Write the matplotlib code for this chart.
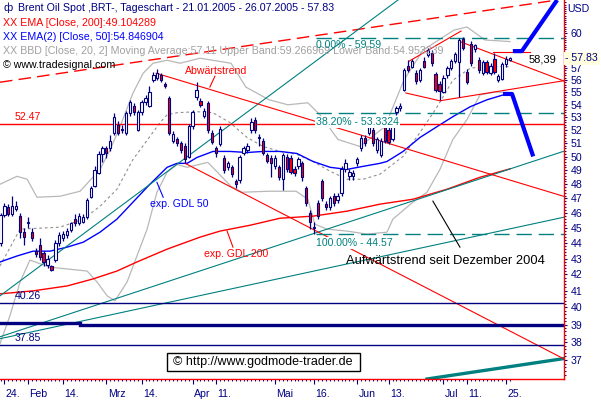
import matplotlib
matplotlib.use("Agg")
import matplotlib.pyplot as plt
from matplotlib.patches import Rectangle
from matplotlib.ticker import FixedLocator, NullFormatter
import numpy as np
import pandas as pd

plt.rcParams['font.family'] = ['Liberation Sans', 'DejaVu Sans']

NAVY = '#000080'
RED = '#ff0000'
BLUE = '#0000ff'
TEAL = '#008080'
GREY = '#b8b8b8'

# trading days (Good Friday and 30 May missing in the feed)
dates = pd.bdate_range('2005-01-21', '2005-07-26')
dates = dates.drop(pd.to_datetime(['2005-03-25', '2005-05-30']))

opens = [44.0, 45.85, 46.4, 45.95, 46.3, 45.8, 44.7, 45.3, 44.7, 43.5,
         43.9, 43.35, 42.6, 42.5, 42.9, 44.0, 44.3, 44.5, 44.85, 45.6,
         45.3, 45.4, 45.7, 47.1, 47.9, 48.8, 50.2, 50.6, 50.6, 51.8,
         52.4, 52.0, 51.8, 53.3, 53.9, 52.0, 53.4, 54.2, 53.9, 56.0,
         56.2, 56.4, 55.7, 54.5, 51.2, 51.3, 51.0, 50.8, 50.0, 52.3,
         54.6, 54.3, 53.1, 54.1, 51.8, 50.6, 50.9, 49.9, 49.2, 49.2,
         48.2, 48.3, 50.3, 50.5, 52.0, 52.8, 51.5, 51.2, 50.1, 49.9,
         49.3, 49.2, 48.4, 50.0, 49.9, 49.1, 49.3, 49.5, 47.7, 46.0,
         45.0, 46.7, 48.2, 46.6, 46.4, 47.2, 46.9, 47.4, 49.1, 48.6,
         48.6, 49.5, 50.6, 51.4, 51.8, 52.0, 50.5, 50.1, 52.2, 52.0,
         51.3, 53.4, 53.7, 55.2, 57.2, 57.1, 56.6, 56.0, 57.6, 58.1,
         58.3, 56.5, 55.7, 55.0, 56.4, 57.0, 57.6, 57.5, 59.5, 56.7,
         59.1, 58.6, 57.7, 56.6, 57.5, 56.6, 57.8, 56.0, 56.1, 57.3, 57.7]
highs = [46.0, 46.7, 46.6, 47.2, 46.8, 46.0, 45.0, 45.7, 45.0, 43.7,
         44.3, 43.5, 43.2, 42.6, 44.2, 44.7, 44.8, 45.0, 45.4, 45.9,
         46.0, 45.9, 47.0, 47.9, 49.3, 50.4, 50.8, 50.8, 51.6, 53.3,
         52.7, 52.4, 53.5, 54.4, 54.1, 53.6, 54.4, 54.8, 55.5, 56.7,
         56.9, 56.6, 55.8, 54.7, 51.9, 51.5, 51.2, 51.0, 52.5, 53.6,
         55.8, 54.5, 53.7, 54.3, 52.0, 50.8, 52.3, 50.1, 49.7, 49.4,
         48.4, 50.1, 50.8, 51.0, 52.9, 53.0, 51.7, 51.4, 50.3, 50.1,
         50.1, 49.4, 50.3, 50.2, 50.1, 49.3, 50.0, 49.7, 47.9, 46.2,
         45.4, 46.9, 48.4, 46.8, 47.2, 47.4, 47.4, 49.3, 49.8, 49.1,
         49.0, 50.0, 51.6, 51.6, 52.4, 52.2, 51.5, 51.4, 52.4, 52.2,
         52.8, 53.9, 54.1, 57.0, 57.7, 57.8, 56.8, 57.0, 57.9, 58.7,
         58.5, 56.7, 55.9, 56.4, 57.2, 57.8, 58.4, 59.6, 59.7, 56.9,
         59.3, 59.1, 57.9, 57.7, 57.7, 57.4, 58.3, 56.5, 57.5, 58.0, 57.95]
lows = [43.8, 45.7, 45.8, 45.8, 46.1, 44.3, 43.9, 45.0, 44.1, 43.1,
        42.9, 42.5, 42.4, 42.2, 42.8, 43.8, 44.1, 44.3, 44.7, 45.1,
        45.2, 45.3, 45.6, 47.0, 47.8, 48.7, 49.6, 49.9, 50.4, 51.6,
        51.6, 51.8, 51.6, 53.1, 53.2, 51.9, 53.2, 54.0, 53.8, 55.8,
        56.0, 55.8, 55.3, 51.6, 51.0, 50.8, 50.3, 49.5, 49.9, 52.1,
        54.4, 53.8, 52.9, 51.8, 50.9, 50.0, 50.8, 48.8, 49.0, 48.5,
        47.7, 48.1, 50.1, 50.3, 51.8, 51.8, 50.8, 50.1, 49.5, 48.5,
        49.1, 48.3, 47.6, 48.9, 48.7, 48.6, 49.1, 48.2, 46.5, 44.9,
        44.6, 45.6, 46.8, 46.2, 46.2, 46.5, 46.7, 47.2, 48.9, 48.3,
        48.3, 49.3, 50.4, 50.8, 51.6, 50.8, 50.3, 50.0, 51.0, 50.9,
        51.2, 53.2, 53.5, 55.1, 56.7, 57.0, 55.7, 55.8, 57.0, 57.9,
        57.2, 55.0, 54.4, 54.9, 56.2, 56.8, 57.4, 54.6, 58.5, 55.7,
        57.2, 58.4, 56.6, 56.4, 56.5, 56.4, 56.5, 55.8, 56.0, 57.1, 57.6]
closes = [45.85, 46.5, 45.95, 46.5, 46.5, 44.7, 44.4, 45.4, 44.3, 43.3,
          43.1, 42.8, 43.0, 42.3, 44.0, 44.5, 44.6, 44.8, 45.3, 45.3,
          45.8, 45.7, 46.9, 47.7, 49.0, 50.2, 50.6, 50.3, 51.2, 53.0,
          51.8, 52.1, 53.3, 54.2, 53.4, 53.4, 54.2, 54.5, 55.0, 56.4,
          56.6, 56.0, 55.5, 51.8, 51.7, 51.0, 50.5, 49.8, 52.3, 53.4,
          55.2, 54.0, 53.5, 52.0, 51.1, 50.3, 52.1, 49.0, 49.5, 48.7,
          48.0, 50.0, 50.6, 50.8, 52.6, 52.0, 51.4, 50.3, 49.7, 49.5,
          49.9, 48.5, 50.1, 49.1, 48.9, 48.8, 49.8, 48.5, 46.7, 45.4,
          45.05, 45.8, 47.0, 46.4, 47.0, 46.7, 47.2, 49.1, 49.5, 48.9,
          48.8, 49.8, 51.4, 51.0, 52.2, 51.0, 51.3, 51.2, 51.2, 51.1,
          52.6, 53.7, 53.9, 56.8, 56.8, 57.6, 55.9, 56.8, 57.1, 58.5,
          57.4, 55.2, 55.1, 56.2, 57.0, 57.6, 58.2, 59.4, 58.7, 55.8,
          57.4, 59.0, 56.8, 57.5, 56.7, 57.2, 56.7, 56.3, 57.3, 57.8, 57.83]

# indicator lines (bar index, price)
ema200_x = [-0.13, 8.3, 17.0, 23.6, 29.7, 34.8, 42.5, 50.9, 56.0, 63.7, 71.3, 79.7,
            88.4, 96.8, 105.2, 113.9, 122.3, 130.0]
ema200_y = [40.81, 40.99, 41.29, 41.72, 42.21, 42.78, 43.60, 44.38, 44.78, 45.17, 45.64, 45.78,
            46.12, 46.60, 46.94, 47.64, 48.49, 49.10]
ema50_x = [-0.13, 4.2, 8.3, 12.6, 17.0, 21.1, 25.4, 29.7, 33.8, 38.1, 42.5, 45.0, 47.6,
           50.1, 54.2, 58.5, 62.9, 67.0, 71.3, 75.6, 79.7, 84.1, 88.4, 92.5, 96.8, 98.6,
           102.7, 107.0, 111.4, 115.4, 119.8, 124.1, 128.2, 130.0]
ema50_y = [42.78, 43.16, 43.47, 43.47, 43.73, 44.05, 44.71, 45.58, 46.74, 47.99, 49.21, 49.50, 49.50,
           49.93, 50.38, 50.38, 50.30, 50.38, 50.38, 50.23, 49.64, 49.21, 49.06, 49.28, 49.50, 49.64,
           50.38, 51.43, 52.27, 53.04, 53.82, 54.38, 54.77, 54.85]
bb_mid_x = [-0.13, 5.0, 15.2, 21.1, 25.4, 29.7, 33.8, 38.1, 40.7, 42.5, 45.0, 50.1, 54.2,
            58.5, 62.9, 67.0, 71.3, 75.6, 79.7, 84.1, 88.4, 92.5, 96.8, 102.7, 107.0, 111.4,
            115.4, 119.8, 124.1, 130.0]
bb_mid_y = [42.53, 44.91, 45.04, 45.58, 46.46, 47.64, 49.79, 51.50, 52.58, 53.19, 53.35, 53.43, 53.35,
            52.58, 51.43, 50.75, 50.38, 50.16, 49.64, 48.92, 48.35, 48.35, 48.71, 50.01, 51.81, 53.82,
            55.98, 56.98, 57.14, 57.11]
bb_up_x = [-0.13, 4.2, 6.8, 9.3, 15.2, 20.3, 25.4, 28.0, 30.5, 33.8, 36.4, 38.9, 42.5, 45.8,
           50.9, 58.8, 62.6, 68.5, 73.3, 78.4, 81.5, 86.1, 91.7, 98.1, 102.9, 107.8, 115.7,
           119.0, 123.6, 130.0]
bb_up_y = [47.99, 48.56, 48.35, 47.08, 47.15, 47.50, 49.06, 50.53, 52.27, 54.93, 56.56, 57.40, 57.66, 57.40,
           57.83, 57.40, 55.41, 54.38, 53.98, 54.14, 53.19, 51.28, 50.75, 52.27, 55.98, 58.53, 60.29,
           60.56, 59.41, 59.27]
bb_low_x = [-0.13, 2.4, 5.0, 7.5, 12.6, 17.0, 22.1, 24.6, 27.2, 29.2, 32.3, 34.8, 37.4,
            39.9, 42.5, 45.0, 47.6, 52.9, 58.8, 61.6, 68.5, 75.4, 78.4, 80.2, 83.3, 88.4, 93.5,
            98.6, 100.1, 105.2, 108.8, 112.1, 115.4, 119.0, 122.3, 126.2, 130.0]
bb_low_y = [37.91, 39.51, 41.54, 42.90, 42.45, 42.34, 42.21, 41.54, 40.69, 40.39, 41.54, 43.16, 44.91,
            47.43, 48.85, 49.42, 49.21, 49.57, 47.85, 47.43, 47.50, 47.50, 46.94, 45.24, 44.91, 44.78, 44.58,
            44.71, 45.58, 46.74, 47.43, 49.06, 51.28, 52.81, 54.77, 55.01, 54.95]

# drawn analysis lines: (x, y) of their ends
red_dash = ([-0.13, 142.0], [55.81, 63.03])
teal_steep = ([-0.13, 101.4], [40.69, 63.03])
teal_upper = ([-0.13, 143.75], [38.30, 50.40])
teal_lower = ([-0.13, 143.75], [38.19, 45.71])
teal_thick = ([108.8, 143.6], [35.98, 37.08])
down_top = ([39.7, 143.6], [56.56, 47.15])
down_low = ([47.1, 143.6], [49.50, 37.08])
wedge_top = ([104.2, 117.5], [57.57, 60.20])
wedge_low = ([103.4, 112.1, 143.6], [54.93, 54.30, 55.93])
pennant_top = ([117.5, 143.6], [59.23, 55.93])
mark_5839 = ([125.6, 135.1], [58.39, 58.39])
arrow_up = ([130.7, 133.0, 142.0], [58.44, 58.44, 63.03])
arrow_down = ([128.2, 130.5, 135.9], [54.85, 54.85, 50.01])

fib_levels = [59.59, 53.3324, 44.57]
fib_start = 80.5
level_red = 52.47
levels_navy = [40.26, 37.85]

y_ticks = [60, 57, 56, 55, 54, 53, 52, 51, 50, 49, 48, 47, 46, 45, 44, 43, 42, 41, 40, 39, 38, 37]
x_tick_dates = ['2005-01-24', '2005-02-01', '2005-02-14', '2005-03-01', '2005-03-14', '2005-04-01',
                '2005-04-11', '2005-05-02', '2005-05-16', '2005-06-01', '2005-06-13', '2005-07-01',
                '2005-07-11', '2005-07-25']
x_tick_labels = ['24.', 'Feb', '14.', 'Mrz', '14.', 'Apr', '11.', 'Mai', '16.', 'Jun', '13.', 'Jul',
                 '11.', '25.']

W, H = 601, 401


def px(x, y):
    return x / W, 1 - y / H


fig = plt.figure(figsize=(6.01, 4.01), dpi=100)
ax = fig.add_axes([0, 22 / H, 564 / W, 379 / H])
ax.set_yscale('log')
ax.set_xlim(-0.13, 143.75)
ax.set_ylim(35.98, 63.03)

xs = np.arange(len(dates))
o = np.array(opens)
c = np.array(closes)

# indicators
ax.plot(bb_up_x, bb_up_y, color=GREY, lw=0.9, zorder=1)
ax.plot(bb_low_x, bb_low_y, color=GREY, lw=0.9, zorder=1)
ax.plot(bb_mid_x, bb_mid_y, color='#909090', lw=0.8, ls=(0, (2.5, 2.5)), zorder=1)
ax.plot(ema200_x, ema200_y, color=RED, lw=1.0, zorder=2)
ax.plot(ema50_x, ema50_y, color=BLUE, lw=1.0, zorder=2)

# trend lines
ax.plot(*red_dash, color=RED, lw=1.0, ls=(0, (9, 4.5)), zorder=2)
for ln in (teal_steep, teal_upper, teal_lower):
    ax.plot(*ln, color=TEAL, lw=0.8, zorder=2)
ax.plot(*teal_thick, color=TEAL, lw=2.4, zorder=2)
for ln in (down_top, down_low, wedge_top, wedge_low, pennant_top, mark_5839):
    ax.plot(*ln, color=RED, lw=0.8, zorder=2)
ax.axhline(level_red, color=RED, lw=1.0, zorder=2)
for lv in levels_navy:
    ax.axhline(lv, color=NAVY, lw=1.0, zorder=2)
ax.plot([-0.13, 20.3], [39.06, 39.06], color=NAVY, lw=2.4, zorder=2)
ax.plot([20.3, 143.75], [38.99, 38.99], color=NAVY, lw=2.4, zorder=2)
for lv in fib_levels:
    ax.plot([fib_start, 143.75], [lv, lv], color=TEAL, lw=1.0, ls=(0, (11, 5)), zorder=2)

# leader lines
ax.plot([54.7, 53.4], [56.31, 55.41], color=RED, lw=0.8, zorder=2)
ax.plot([39.9, 41.5], [48.13, 47.08], color=BLUE, lw=0.8, zorder=2)
ax.plot([57.8, 59.3], [44.78, 43.73], color=RED, lw=0.8, zorder=2)
ax.plot([110.3, 117.2], [46.81, 43.73], color='black', lw=0.8, zorder=2)

# candles
ax.vlines(xs, lows, highs, color=NAVY, lw=0.9, zorder=3)
bottoms = np.minimum(o, c)
heights = np.maximum(np.abs(c - o), 0.03)
fills = ['white' if cc >= oo else RED for oo, cc in zip(o, c)]
ax.bar(xs, heights, width=0.58, bottom=bottoms, color=fills, edgecolor=NAVY, linewidth=0.8, zorder=4)

# arrows
ax.plot(*arrow_up, color=BLUE, lw=3.0, solid_capstyle='butt', zorder=5)
ax.plot(*arrow_down, color=BLUE, lw=3.0, solid_capstyle='butt', zorder=5)

# axes styling
for s in ('left', 'top'):
    ax.spines[s].set_visible(False)
for s in ('right', 'bottom'):
    ax.spines[s].set_color(RED)
    ax.spines[s].set_linewidth(1.0)

ax.yaxis.tick_right()
ax.set_yticks(y_ticks)
ax.set_yticklabels([str(t) for t in y_ticks])
ax.yaxis.set_minor_locator(FixedLocator(np.arange(36.2, 63.0, 0.2)))
ax.yaxis.set_minor_formatter(NullFormatter())
ax.tick_params(axis='y', which='major', direction='out', length=2.5, width=0.8, color=NAVY,
               labelcolor=NAVY, labelsize=7.6, pad=2.2)
ax.tick_params(axis='y', which='minor', direction='out', length=1.4, width=0.7, color=NAVY)

tick_idx = [dates.get_loc(pd.Timestamp(d)) for d in x_tick_dates]
ax.set_xticks(tick_idx)
ax.set_xticklabels([])
ax.xaxis.set_minor_locator(FixedLocator(xs))
ax.tick_params(axis='x', which='major', direction='out', length=3.5, width=0.8, color=NAVY)
ax.tick_params(axis='x', which='minor', direction='out', length=1.5, width=0.7, color=NAVY)
for idx, lab in zip(tick_idx, x_tick_labels):
    ax.text(idx + 0.35, -0.04, lab, transform=ax.get_xaxis_transform(), ha='left', va='center',
            color=NAVY, fontsize=7.6)

ax.annotate('- 57.83', xy=(1, closes[-1]), xycoords=('axes fraction', 'data'), xytext=(1, 0),
            textcoords='offset points', ha='left', va='center', color=NAVY, fontsize=7.6,
            bbox=dict(facecolor='#ffffe0', edgecolor='none', pad=1.2), annotation_clip=False)

# header
fig.text(*px(4, 8), '\u0444', color=NAVY, fontsize=8, va='center')
fig.text(*px(18, 8), 'Brent Oil Spot ,BRT-, Tageschart - 21.01.2005 - 26.07.2005 - 57.83',
         color=NAVY, fontsize=7.7, va='center')
fig.text(*px(3, 23), 'XX EMA [Close, 200]:49.104289', color=RED, fontsize=7.7, va='center')
fig.text(*px(3, 37), 'XX EMA(2) [Close, 50]:54.846904', color=BLUE, fontsize=7.7, va='center')
fig.text(*px(3, 51), 'XX BBD [Close, 20, 2] Moving Average:57.11 Upper Band:59.266969 Lower Band:54.953239',
         color='#a0a0a0', fontsize=7.7, va='center')
fig.text(*px(3, 65), '\u00a9 www.tradesignal.com', color='black', fontsize=7.7, va='center')
fig.text(*px(567, 9), 'USD', color=NAVY, fontsize=7.6, va='center')

# annotations
fig.text(*px(185, 71), 'Abw\u00e4rtstrend', color=RED, fontsize=7.6, va='center')
fig.text(*px(15, 117), '52.47', color=RED, fontsize=7.6, va='center')
fig.text(*px(15, 296), '40.26', color=NAVY, fontsize=7.6, va='center')
fig.text(*px(15, 338), '37.85', color=NAVY, fontsize=7.6, va='center')
fig.text(*px(150, 204), 'exp. GDL 50', color=BLUE, fontsize=7.6, va='center')
fig.text(*px(204, 254), 'exp. GDL 200', color=RED, fontsize=7.6, va='center')
fig.text(*px(316, 45), '0.00% - 59.59', color=TEAL, fontsize=7.6, va='center')
fig.text(*px(316, 122), '38.20% - 53.3324', color=TEAL, fontsize=7.6, va='center',
         bbox=dict(facecolor='white', edgecolor='none', pad=0.4))
fig.text(*px(316, 243), '100.00% - 44.57', color=TEAL, fontsize=7.6, va='center',
         bbox=dict(facecolor='white', edgecolor='none', pad=0.4))
fig.text(*px(346, 261), 'Aufw\u00e4rtstrend seit Dezember 2004', color='black', fontsize=9.3, va='center')
fig.text(*px(529, 59), '58,39', color='black', fontsize=8, va='center')

fig.patches.append(Rectangle(px(167, 371), 193 / W, 18 / H, transform=fig.transFigure,
                             facecolor='white', edgecolor='black', lw=1.0, zorder=5))
fig.text(*px(263, 362), '\u00a9 http://www.godmode-trader.de', color='black', fontsize=9,
         ha='center', va='center', zorder=6)

fig.savefig('out.png', dpi=100)
